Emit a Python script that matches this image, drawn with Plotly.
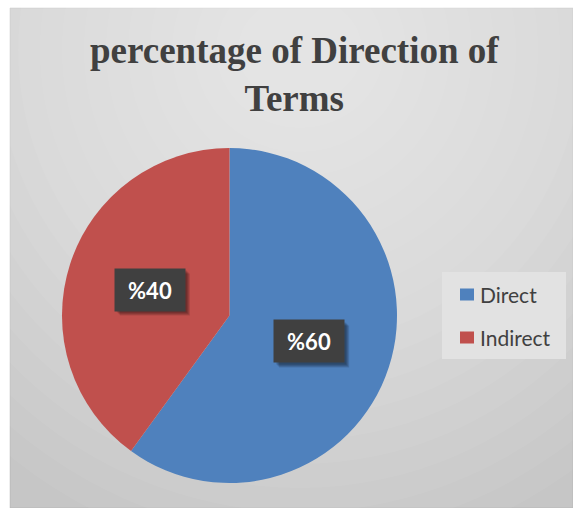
import math
import plotly.graph_objects as go

# ---- data ----
categories = ["Direct", "Indirect"]
values = [60, 40]
slice_colors = ["#4f81bd", "#c0504d"]
title_text = "percentage of Direction of<br>Terms"

W, H = 573, 508
# pie geometry in pixels
cx, cy, r = 229.5, 315.5, 167.5

def px2x(x):
    return x / W

def px2y(y):
    return 1 - y / H

fig = go.Figure()
fig.add_trace(go.Pie(
    labels=categories, values=values,
    marker=dict(colors=slice_colors, line=dict(width=0)),
    sort=False, direction="clockwise", rotation=0,
    textinfo="none", hoverinfo="label+percent",
    domain=dict(x=[px2x(cx - r), px2x(cx + r)], y=[px2y(cy + r), px2y(cy - r)]),
    showlegend=False,
))

shapes = []
# chart-area background with approximate radial gradient
shapes.append(dict(type="rect", xref="paper", yref="paper", x0=px2x(10), x1=1.0, y0=0, y1=px2y(8),
                   fillcolor="#c6c6c6", line=dict(color="#b8b8b8", width=1), layer="below"))
n = 20
for i in range(n):
    f = 1 - i / n
    rx = 440 * f + 40
    ry = 480 * f + 30
    ex, ey = 300, 50
    shapes.append(dict(type="circle", xref="paper", yref="paper",
                       x0=px2x(ex - rx), x1=px2x(ex + rx), y0=px2y(ey + ry), y1=px2y(ey - ry),
                       fillcolor="rgba(255,255,255,0.052)", line=dict(width=0), layer="below"))
# white strips outside the frame
shapes.append(dict(type="rect", xref="paper", yref="paper", x0=0, x1=px2x(9.5), y0=0, y1=1,
                   fillcolor="white", line=dict(width=0), layer="below"))
shapes.append(dict(type="rect", xref="paper", yref="paper", x0=0, x1=1, y0=px2y(7.5), y1=1,
                   fillcolor="white", line=dict(width=0), layer="below"))

annotations = []
# title
annotations.append(dict(x=px2x(294), y=px2y(75), xref="paper", yref="paper", text="<b>" + title_text + "</b>",
                        showarrow=False, xanchor="center", yanchor="middle",
                        font=dict(family="Liberation Serif", size=37, color="#404040")))

# data labels in dark boxes, placed at half radius on each slice's mid-angle
bw, bh = 70, 42
total = sum(values)
start = 0.0
for v in values:
    frac = v / total
    mid = (start + frac / 2) * 2 * math.pi
    start += frac
    lx = cx + 0.5 * r * math.sin(mid)
    ly = cy - 0.5 * r * math.cos(mid)
    label = "%" + str(v)
    # soft shadow (shapes above the pie)
    for k in range(4):
        shapes.append(dict(type="rect", xref="paper", yref="paper",
                           x0=px2x(lx - bw / 2 + 2 + k), x1=px2x(lx + bw / 2 + 2 + k),
                           y0=px2y(ly + bh / 2 + 2 + k), y1=px2y(ly - bh / 2 + 2 + k),
                           fillcolor="rgba(0,0,0,0.13)", line=dict(width=0), layer="above"))
    annotations.append(dict(x=px2x(lx), y=px2y(ly), xref="paper", yref="paper",
                            xanchor="center", yanchor="middle",
                            text="<b>" + label + "</b>", showarrow=False,
                            font=dict(family="Lato", size=22, color="white"),
                            bgcolor="#404040", borderpad=0, width=bw, height=bh))

# legend (drawn from the category / colour lists)
shapes.append(dict(type="rect", xref="paper", yref="paper", x0=px2x(442), x1=px2x(566),
                   y0=px2y(359), y1=px2y(272), fillcolor="#e2e2e2", line=dict(width=0), layer="below"))
legend_rows = [294.5, 337.5]
for cat, col, rowy in zip(categories, slice_colors, legend_rows):
    shapes.append(dict(type="rect", xref="paper", yref="paper", x0=px2x(460), x1=px2x(474),
                       y0=px2y(rowy + 6), y1=px2y(rowy - 6), fillcolor=col, line=dict(width=0)))
    annotations.append(dict(x=px2x(478), y=px2y(rowy), xref="paper", yref="paper", text=cat,
                            showarrow=False, xanchor="left", yanchor="middle",
                            font=dict(family="Lato", size=21, color="#404040")))

fig.update_layout(
    width=W, height=H,
    margin=dict(l=0, r=0, t=0, b=0),
    paper_bgcolor="white", plot_bgcolor="white",
    shapes=shapes,
    annotations=annotations,
    showlegend=False,
)

fig.write_html("out.html", post_script="document.body.style.margin='0px';",
               config={"displayModeBar": False})
